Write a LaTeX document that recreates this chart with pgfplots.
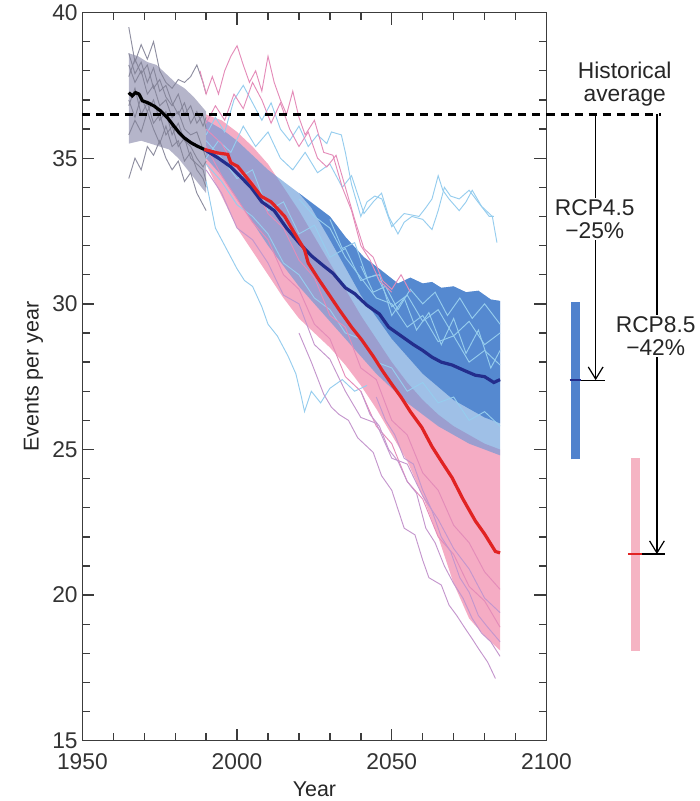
\documentclass[border=0pt]{standalone}
\usepackage{pgfplots}
\usepackage{pgfplotstable}
\pgfplotsset{compat=1.18}
\usepackage{fontspec}
\setmainfont{Liberation Sans}
\usetikzlibrary{arrows.meta}

\definecolor{pinkfill}{RGB}{245,172,196}
\definecolor{bluefill}{RGB}{95,150,215}
\definecolor{darkbfill}{RGB}{72,128,205}
\definecolor{lblue}{RGB}{150,205,238}
\definecolor{lpink}{RGB}{228,140,185}
\definecolor{lpurple}{RGB}{196,150,205}
\definecolor{gfill}{RGB}{150,150,180}
\definecolor{gline}{RGB}{130,130,150}
\definecolor{meanred}{RGB}{225,35,35}
\definecolor{meanblue}{RGB}{35,45,140}
\definecolor{axcol}{RGB}{60,60,60}
\definecolor{barpink}{RGB}{245,180,195}
\definecolor{barblue}{RGB}{80,130,205}

\pgfplotstableread{
year g1 g2 g3 g4 g5 g6 g7 g8
1965 39.5 34.3 38.2 36.8 37.8 35.8 37.0 38.6
1967 38.3 35.0 37.6 37.4 38.4 36.3 36.4 37.9
1969 38.9 34.6 38.0 36.5 37.9 35.9 37.1 38.3
1971 38.4 35.4 37.2 36.9 38.2 36.6 36.6 37.6
1973 39.0 35.1 37.5 36.2 37.4 36.0 37.0 38.1
1975 38.0 35.6 36.8 36.5 37.7 35.5 36.3 37.3
1977 37.6 35.0 37.0 35.8 37.1 36.1 36.6 37.5
1979 37.4 34.6 36.4 36.1 36.8 35.4 35.8 36.9
1981 37.7 34.9 36.6 35.4 37.2 35.6 36.2 36.5
1983 37.6 34.2 36.0 35.7 36.5 34.9 35.6 36.9
1985 37.8 34.5 35.8 35.0 36.8 35.2 35.4 36.2
1987 38.2 33.8 35.9 34.8 36.2 34.6 35.0 36.6
1989 37.6 33.4 35.3 34.6 36.5 34.3 34.7 36.1
1990 37.2 33.2 35.0 34.2 36.0 34.0 34.9 36.4
}\graydata

\begin{document}
\begin{tikzpicture}
\begin{axis}[
  scale only axis, width=346.5pt, height=543.75pt,
  xmin=1950, xmax=2100, ymin=15, ymax=40,
  xtick={1950,2000,2050,2100}, ytick={15,20,25,30,35,40},
  minor x tick num=4, minor y tick num=4,
  tick align=inside,
  major tick length=9pt, minor tick length=5.5pt,
  axis line style={axcol, line width=1pt},
  every tick/.style={axcol, line width=1pt},
  /pgf/number format/assume math mode=true,
  /pgf/number format/1000 sep={},
  ticklabel style={font=\fontsize{17}{19}\selectfont, text=black!80},
  xticklabel style={yshift=-6pt},
  xlabel={Year}, ylabel={Events per year},
  label style={font=\fontsize{16}{18}\selectfont, text=black!85},
  xlabel style={yshift=-2pt},
  clip=false,
]
% gray historical envelope
\addplot[draw=none, fill=gfill, fill opacity=0.7] coordinates {
(1965,38.6)(1968,38.5)(1971,38.3)(1974,38.2)(1977,37.9)(1980,37.6)(1983,37.4)(1986,37.1)(1990,36.6)
(1990,33.8)(1987,34.2)(1984,34.6)(1981,35.0)(1978,35.3)(1975,35.4)(1972,35.5)(1969,35.6)(1965,35.5)} -- cycle;
% pink RCP8.5 envelope
\addplot[draw=none, fill=pinkfill] coordinates {
(1990,36.5)(1995,36.3)(2000,35.9)(2005,35.4)(2010,34.8)(2015,34.0)(2020,33.2)(2025,32.3)(2030,31.4)(2035,30.5)(2040,29.6)(2045,28.8)(2050,28.0)(2055,27.3)(2060,26.7)(2065,26.2)(2070,25.8)(2075,25.5)(2080,25.2)(2085,25.0)
(2085,18.1)(2080,18.6)(2075,19.2)(2070,20.4)(2065,22.0)(2060,23.4)(2055,24.6)(2050,25.5)(2045,26.4)(2040,27.2)(2035,27.9)(2030,28.5)(2025,29.0)(2020,29.5)(2015,30.2)(2010,31.0)(2005,31.8)(2000,32.6)(1995,33.7)(1990,34.8)} -- cycle;
% blue RCP4.5 envelope
\addplot[draw=none, fill=bluefill, fill opacity=0.6] coordinates {
(1990,36.3)(1995,36.0)(2000,35.6)(2005,35.1)(2010,34.6)(2015,34.2)(2020,33.8)(2025,33.4)(2030,33.0)(2035,32.3)(2041,31.6)(2046,31.2)(2052,30.7)(2056,30.9)(2060,30.7)(2063,30.75)(2066,30.55)(2070,30.6)(2074,30.4)(2078,30.45)(2082,30.15)(2085,30.1)
(2085,24.8)(2080,25.0)(2075,25.2)(2070,25.5)(2065,25.8)(2060,26.2)(2055,26.6)(2050,27.1)(2045,27.6)(2040,28.2)(2035,28.8)(2030,29.4)(2025,30.0)(2020,30.6)(2015,31.3)(2010,32.0)(2005,32.8)(2000,33.6)(1995,34.4)(1990,35.0)} -- cycle;
% darker upper part of RCP4.5
\addplot[draw=none, fill=darkbfill, fill opacity=0.85] coordinates {
(2020,33.8)(2025,33.4)(2030,33.0)(2035,32.3)(2041,31.6)(2046,31.2)(2052,30.7)(2056,30.9)(2060,30.7)(2063,30.75)(2066,30.55)(2070,30.6)(2074,30.4)(2078,30.45)(2082,30.15)(2085,30.1)
(2085,25.9)(2080,26.1)(2070,26.7)(2060,27.6)(2050,28.8)(2040,30.3)(2030,32.2)(2024,33.3)} -- cycle;

% gray ensemble members
\foreach \c in {g1,g2,g3,g4,g5,g6,g7,g8}{
  \addplot[gline, line width=0.7pt, opacity=0.9] table[x=year, y=\c] {\graydata};
}

% light blue members (RCP4.5)
\addplot[lblue, line width=0.7pt] coordinates {
(1990,35.8)(1993,36.4)(1996,35.9)(1999,37.0)(2002,37.5)(2005,36.9)(2008,36.3)(2011,36.9)(2014,36.0)(2017,35.6)(2020,36.1)(2023,35.4)(2026,35.8)(2029,35.5)(2030.5,35.9)(2033.7,35.8)(2035,35.2)(2037,34.1)(2040,33.0)(2042,33.5)(2044.5,33.7)(2046.8,33.6)(2050,32.65)(2054,33.1)(2058.8,33.0)(2061,33.3)(2063,33.6)(2065,34.4)(2066.5,33.9)(2068.5,33.6)(2071.8,33.2)(2074,33.5)(2076,33.9)(2079,33.35)(2082.5,33.0)(2084,32.1)};
\addplot[lblue, line width=0.7pt] coordinates {
(1990,35.0)(1994,35.6)(1998,35.2)(2002,36.1)(2006,35.4)(2010,35.9)(2014,35.0)(2018,34.6)(2022,35.2)(2026,34.5)(2030,34.8)(2034,34.0)(2037,34.4)(2041,33.1)(2044,33.5)(2046.7,33.8)(2049,33.0)(2052,32.4)(2054,32.8)(2056.5,33.0)(2060,32.9)(2063,32.55)(2065,33.2)(2067,34.0)(2069,33.7)(2071.8,33.6)(2075,33.9)(2078.2,33.45)(2081.5,33.0)(2083,33.0)};
\addplot[lblue, line width=0.7pt] coordinates {
(1990,34.2)(1993,32.6)(1995,32.2)(1998,31.6)(2000,31.2)(2002.4,30.8)(2005,30.6)(2008,29.9)(2010,29.3)(2013,28.9)(2016.5,28.2)(2019,27.6)(2020.8,26.8)(2021.8,26.3)(2024,27.0)(2027,26.6)(2030,27.1)(2034,27.4)(2038,27.0)(2042,27.2)};
\addplot[lblue, line width=0.7pt] coordinates {
(1990,35.6)(1995,35.0)(2000,34.3)(2005,34.6)(2010,33.2)(2015,33.5)(2020,32.4)(2025,32.7)(2030,31.6)(2035,31.9)(2040,30.8)(2045,31.0)(2050,29.9)(2055,30.3)(2060,29.4)(2065,29.8)(2070,28.9)(2075,29.4)(2080,28.6)(2085,29.0)};
\addplot[lblue, line width=0.7pt] coordinates {
(1990,34.8)(1995,34.2)(2000,33.4)(2005,33.0)(2010,32.4)(2015,31.4)(2020,31.0)(2025,30.2)(2030,29.8)(2035,29.0)(2040,28.8)(2045,28.0)(2050,27.8)(2055,27.0)(2060,27.3)(2065,26.6)(2070,26.8)(2075,26.0)(2080,26.3)(2085,25.8)};
\addplot[lblue, line width=0.7pt] coordinates {
(2020,33.6)(2025,33.0)(2030,32.6)(2035,31.6)(2040,30.9)(2045,30.2)(2050,30.0)(2055,29.2)(2060,29.6)(2065,28.7)(2070,28.9)(2075,28.0)(2080,28.4)(2085,27.9)};
\addplot[lblue, line width=0.7pt] coordinates {
(2030,32.9)(2034,31.9)(2038,32.1)(2042,30.9)(2046,31.0)(2050,29.6)(2054,30.2)(2058,29.1)(2062,29.7)(2066,28.6)(2070,29.5)(2074,28.3)(2078,29.1)(2082,27.8)(2085,28.4)};
\addplot[lblue, line width=0.7pt] coordinates {
(2040,31.3)(2044,30.4)(2048,30.6)(2052,29.8)(2056,30.5)(2060,30.0)(2064,30.4)(2068,29.6)(2072,30.2)(2076,29.5)(2080,30.0)(2085,29.3)};

% pink / purple members (RCP8.5)
\addplot[lpink, line width=0.7pt] coordinates {
(1988,38.0)(1990,37.2)(1992,37.8)(1994,37.2)(1996,38.0)(1998,38.5)(2000,38.86)(2002,38.2)(2004,37.6)(2006,38.0)(2008,37.3)(2010,38.5)(2012,37.6)(2014,37.0)(2016,36.5)(2018,37.3)(2020,36.4)(2022,35.8)(2025,36.3)(2028,35.2)(2031,35.1)(2034,34.0)(2037,33.2)(2040,32.0)(2043,31.5)(2046,30.8)(2050,30.4)};
\addplot[lpink, line width=0.7pt] coordinates {
(1990,36.2)(1993,36.8)(1996,36.3)(1999,37.2)(2002,36.7)(2005,37.6)(2008,37.0)(2011,36.2)(2014,36.9)(2017,36.0)(2020,35.4)(2023,35.9)(2026,35.0)(2029,34.7)(2032,35.1)(2035,34.0)(2038,32.9)(2041,31.9)(2044,31.6)(2047,30.8)(2050,30.5)(2053,31.0)(2056,30.4)};
\addplot[lpink, line width=0.7pt] coordinates {
(1990,35.4)(1995,34.4)(2000,33.6)(2005,32.8)(2010,32.2)(2015,31.0)(2020,30.5)(2025,29.3)(2030,28.8)(2035,27.5)(2040,27.0)(2045,25.8)(2050,25.2)(2055,23.9)(2060,23.3)(2065,22.0)(2070,21.4)(2075,20.3)(2080,19.8)(2085,18.9)};
\addplot[lpink, line width=0.7pt] coordinates {
(1990,36.0)(1995,35.5)(2000,34.6)(2005,34.2)(2010,33.1)(2015,32.6)(2020,31.5)(2025,30.9)(2030,29.6)(2035,29.2)(2040,27.8)(2045,27.4)(2050,26.0)(2055,25.5)(2060,24.2)(2065,23.6)(2070,22.4)(2075,21.8)(2080,20.8)(2085,20.2)};
\addplot[lpurple, line width=0.7pt] coordinates {
(1990,34.6)(1995,33.8)(2000,32.6)(2005,32.2)(2010,31.4)(2015,30.3)(2020,30.0)(2025,28.6)(2030,28.1)(2035,27.0)(2040,26.1)(2045,25.9)(2050,24.7)(2055,24.5)(2060,23.4)(2065,22.6)(2070,21.6)(2075,20.9)(2080,19.9)(2085,19.4)};
\addplot[lpurple, line width=0.7pt] coordinates {
(2020,29.0)(2024,28.0)(2028,26.9)(2030.5,26.45)(2033,26.2)(2036,26.0)(2039,25.4)(2041,25.2)(2044,24.9)(2046.7,24.1)(2050,23.6)(2054,22.3)(2057.5,22.07)(2060,21.2)(2062,20.6)(2066,20.35)(2068.5,19.66)(2071,19.3)(2073.7,18.86)(2076,18.5)(2078,18.17)(2081,17.7)(2083.5,17.14)};
\addplot[lpurple, line width=0.7pt] coordinates {
(2040,27.0)(2043,26.2)(2046,25.8)(2049,25.0)(2052,24.6)(2055,23.9)(2058,23.5)(2061,22.3)(2064,21.8)(2067,21.0)(2070,20.4)(2073,19.9)(2076,19.2)(2079,18.7)(2082,18.4)(2085,17.9)};
\addplot[lpurple, line width=0.7pt] coordinates {
(2045,26.8)(2048,26.0)(2051,25.5)(2054,24.7)(2057,24.5)(2060,23.6)(2063,22.9)(2066,22.0)(2069,21.5)(2072,20.6)(2075,20.1)(2078,19.3)(2081,18.9)(2085,18.4)};

% historical average dashed line
\addplot[black, line width=1.6pt, dash pattern=on 6pt off 4.5pt] coordinates {(1950,36.5)(2137,36.5)};

% ensemble means
\addplot[black, line width=2.4pt] coordinates {
(1965.0,37.25)(1966.1,37.14)(1967.2,37.25)(1968.3,37.2)(1969.4,36.97)(1971,36.91)(1973.2,36.79)(1975.3,36.62)(1977.5,36.39)(1979.6,36.1)(1981.3,35.87)(1982.9,35.7)(1985.1,35.53)(1987.2,35.41)(1989.4,35.3)};
\addplot[meanblue, line width=2.4pt] coordinates {
(1989.4,35.3)(1994,35.0)(1998,34.7)(2004.5,34.0)(2008,33.5)(2012,33.2)(2016,32.6)(2020,32.1)(2024,31.65)(2028,31.3)(2031,31.05)(2035,30.55)(2038,30.35)(2042,29.95)(2046,29.65)(2049,29.2)(2053,28.9)(2057,28.6)(2060,28.4)(2063,28.17)(2066,28.0)(2069.5,27.9)(2073.7,27.7)(2077,27.55)(2080,27.5)(2083,27.3)(2085,27.4)};
\addplot[meanred, line width=2.4pt] coordinates {
(1989.4,35.3)(1993.7,35.18)(1997,35.13)(1998,34.84)(2000.2,34.72)(2004.5,34.15)(2007.8,33.69)(2011,33.5)(2015.4,33.0)(2018.6,32.42)(2021.8,31.86)(2023,31.4)(2026,30.9)(2029.5,30.35)(2033,29.8)(2037,29.2)(2040.3,28.76)(2044,28.2)(2047,27.7)(2050,27.24)(2053,26.8)(2056,26.3)(2059.7,25.76)(2063,25.1)(2066,24.6)(2069.5,24.03)(2073,23.3)(2077,22.55)(2080,22.1)(2083.5,21.5)(2085,21.45)};

% right-hand annotation: ranges at 2085
\addplot[barblue, line width=6.8pt] coordinates {(2109.4,24.66)(2109.4,30.05)};
\addplot[barpink, line width=6.8pt] coordinates {(2128.9,18.1)(2128.9,24.72)};
\addplot[meanblue, line width=1.3pt] coordinates {(2107.5,27.38)(2111.2,27.38)};
\addplot[black, line width=0.9pt] coordinates {(2111.2,27.38)(2118.8,27.38)};
\addplot[meanred, line width=1.3pt] coordinates {(2126.3,21.41)(2131,21.41)};
\addplot[black, line width=0.9pt] coordinates {(2131,21.41)(2138.3,21.41)};
\addplot[black, line width=0.9pt, -{Straight Barb[length=9pt,width=11pt]}] coordinates {(2115.9,36.5)(2115.9,27.38)};
\addplot[black, line width=0.9pt, -{Straight Barb[length=9pt,width=11pt]}] coordinates {(2135.7,36.5)(2135.7,21.41)};

\node[font=\fontsize{17}{17.5}\selectfont, align=center, text=black!85, inner sep=1pt] at (axis cs:2125.3,37.55) {Historical\\average};
\node[font=\fontsize{17}{17.5}\selectfont, align=center, text=black!85, fill=white, inner sep=1pt] at (axis cs:2115.6,32.9) {RCP4.5\\−25\%};
\node[font=\fontsize{17}{17.5}\selectfont, align=center, text=black!85, fill=white, inner sep=1pt] at (axis cs:2135.3,28.9) {RCP8.5\\−42\%};
\end{axis}
\path ([xshift=-61.5pt]current axis.south west) -- ([xshift=114pt]current axis.south east);
\end{tikzpicture}
\end{document}
